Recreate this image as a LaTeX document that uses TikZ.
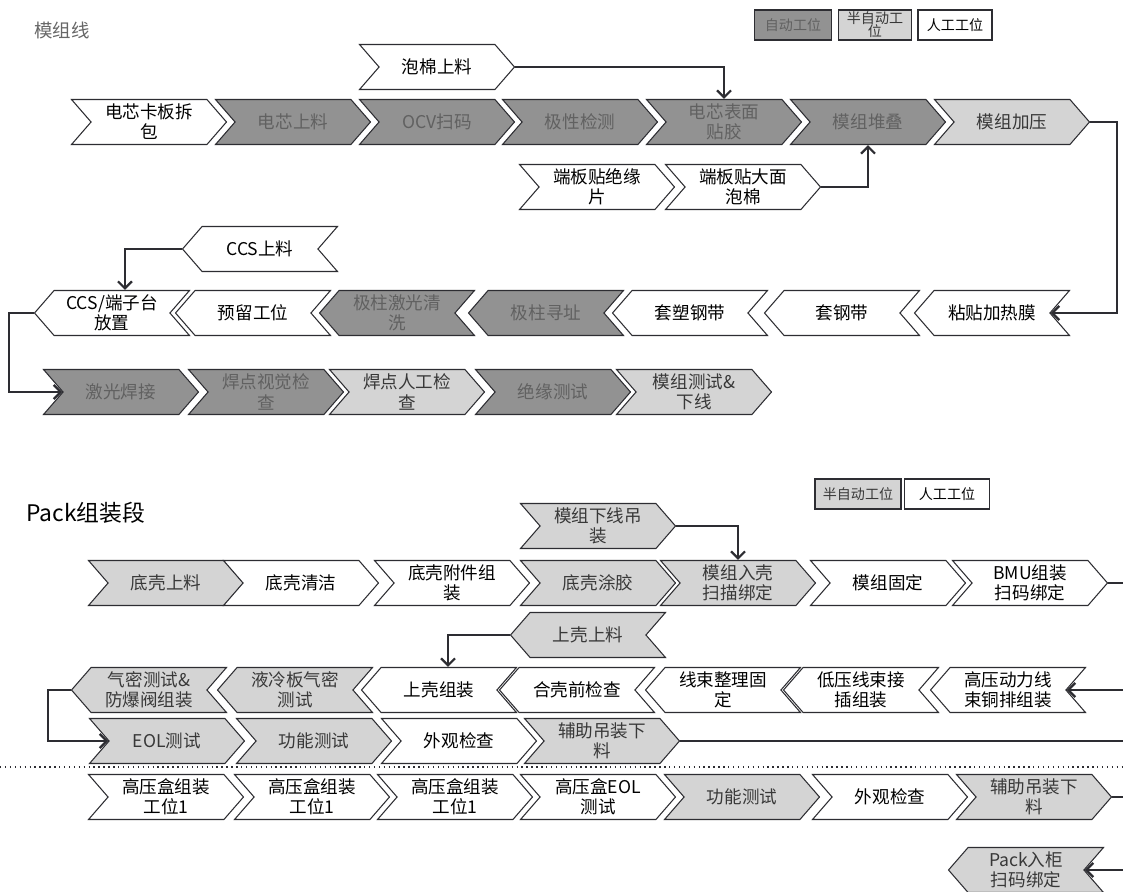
\documentclass[tikz,border=0pt]{standalone}
\usepackage{fontspec}
\setmainfont{Noto Sans CJK SC}
\definecolor{stFull}{RGB}{146,146,146}
\definecolor{stSemi}{RGB}{212,212,212}
\definecolor{stLine}{RGB}{45,45,50}
\usetikzlibrary{arrows.meta,shapes.symbols,calc}

\begin{document}
\begin{tikzpicture}[x=0.02cm, y=-0.02cm,
    st/.style={signal, signal to=east, signal from=west, signal pointer angle=98,
               draw=stLine, line width=0.6pt, minimum width=3.1cm, minimum height=0.9cm,
               inner sep=1pt, align=center, font=\fontsize{10}{11.5}\selectfont},
    stl/.style={st, signal to=west, signal from=east},
    full/.style={fill=stFull, text=black!62},
    semi/.style={fill=stSemi, text=black!78},
    man/.style={fill=white, text=black},
    key/.style={rectangle, draw=stLine, line width=0.6pt, minimum height=0.6cm,
                inner sep=1pt, align=center, font=\fontsize{8}{7.5}\selectfont},
    conn/.style={stLine, line width=1.3pt},
    arr/.style={conn, -{Straight Barb[length=4pt,width=8pt]}}
  ]
  \useasboundingbox (0,0) rectangle (1123,892);

  \node[font=\fontsize{10.5}{12}\selectfont, text=black!60] (t1) at (62,30) {模组线};
  \node[key, full, minimum width=1.54cm, text=black!62] (k1) at (793,25) {自动工位};
  \node[key, semi, minimum width=1.46cm] (k2) at (875,25) {半自动工\\位};
  \node[key, man,  minimum width=1.48cm] (k3) at (955,25) {人工工位};

  \node[st, man]  (pm) at (437,67)  {泡棉上料};
  \node[st, man]  (a1) at (149,122) {电芯卡板拆\\包};
  \node[st, full] (a2) at (293,122) {电芯上料};
  \node[st, full] (a3) at (437,122) {OCV扫码};
  \node[st, full] (a4) at (580,122) {极性检测};
  \node[st, full] (a5) at (724,122) {电芯表面\\贴胶};
  \node[st, full] (a6) at (868,122) {模组堆叠};
  \node[st, semi] (a7) at (1012,122) {模组加压};
  \node[st, man]  (d1) at (597,187) {端板贴绝缘\\片};
  \node[st, man]  (d2) at (743,187) {端板贴大面\\泡棉};

  \node[stl, man]  (cl) at (260,249) {CCS上料};
  \node[stl, man]  (b1) at (112,313) {CCS/端子台\\放置};
  \node[stl, man]  (b2) at (253,313) {预留工位};
  \node[stl, full] (b3) at (397,313) {极柱激光清\\洗};
  \node[stl, full] (b4) at (546,313) {极柱寻址};
  \node[stl, man]  (b5) at (690,313) {套塑钢带};
  \node[stl, man]  (b6) at (842,313) {套钢带};
  \node[stl, man]  (b7) at (992,313) {粘贴加热膜};

  \node[st, full] (c1) at (121,392) {激光焊接};
  \node[st, full] (c2) at (266,392) {焊点视觉检\\查};
  \node[st, semi] (c3) at (407,392) {焊点人工检\\查};
  \node[st, full] (c4) at (553,392) {绝缘测试};
  \node[st, semi] (c5) at (694,392) {模组测试\&\\下线};

  \draw[arr] (pm.east) -| (a5.north);
  \draw[arr] (d2.east) -| (a6.south);
  \draw[arr] (a7.east) -- ++(27,0) |- (b7.east);
  \draw[arr] (cl.west) -| ([xshift=0.26cm]b1.north);
  \draw[arr] (b1.west) -- ++(-25,0) |- (c1.west);

  \node[anchor=west, font=\fontsize{13}{15}\selectfont] (t2) at (20,513) {Pack组装段};
  \node[key, semi, minimum width=1.72cm] (k4) at (858,494) {半自动工位};
  \node[key, man,  minimum width=1.70cm] (k5) at (947,494) {人工工位};

  \node[st, semi] (pd) at (598,526) {模组下线吊\\装};
  \node[st, semi] (p1) at (166,583) {底壳上料};
  \node[st, man]  (p2) at (301,583) {底壳清洁};
  \node[st, man]  (p3) at (452,583) {底壳附件组\\装};
  \node[st, semi] (p4) at (598,583) {底壳涂胶};
  \node[st, semi] (p5) at (738,583) {模组入壳\\扫描绑定};
  \node[st, man]  (p6) at (888,583) {模组固定};
  \node[st, man]  (p7) at (1030,583) {BMU组装\\扫码绑定};

  \node[stl, semi] (sl) at (588,635) {上壳上料};
  \node[stl, semi] (q1) at (149,690) {气密测试\&\\防爆阀组装};
  \node[stl, semi] (q2) at (295,690) {液冷板气密\\测试};
  \node[stl, man]  (q3) at (439,690) {上壳组装};
  \node[stl, man]  (q4) at (577,690) {合壳前检查};
  \node[stl, man]  (q5) at (723,690) {线束整理固\\定};
  \node[stl, man]  (q6) at (861,690) {低压线束接\\插组装};
  \node[stl, man]  (q7) at (1008,690) {高压动力线\\束铜排组装};

  \node[st, semi] (r1) at (167,741) {EOL测试};
  \node[st, semi] (r2) at (314,741) {功能测试};
  \node[st, man]  (r3) at (459,741) {外观检查};
  \node[st, semi] (r4) at (602,741) {辅助吊装下\\料};

  \node[st, man]  (h1) at (166,797) {高压盒组装\\工位1};
  \node[st, man]  (h2) at (312,797) {高压盒组装\\工位1};
  \node[st, man]  (h3) at (455,797) {高压盒组装\\工位1};
  \node[st, man]  (h4) at (598,797) {高压盒EOL\\测试};
  \node[st, semi] (h5) at (742,797) {功能测试};
  \node[st, man]  (h6) at (890,797) {外观检查};
  \node[st, semi] (h7) at (1034,797) {辅助吊装下\\料};

  \node[stl, semi] (pk) at (1026,870) {Pack入柜\\扫码绑定};

  \coordinate (e1) at (1123,583);
  \coordinate (e2) at (1123,690);
  \coordinate (e3) at (1123,741);
  \coordinate (e4) at (1123,797);
  \coordinate (e5) at (1123,870);
  \coordinate (s1) at (0,767);
  \coordinate (s2) at (1123,767);

  \draw[arr] (pd.east) -| (p5.north);
  \draw[conn] (p7.east) -- (e1);
  \draw[arr] (e2) -- (q7.east);
  \draw[arr] (sl.west) -| ([xshift=0.18cm]q3.north);
  \draw[arr] (q1.west) -- ++(-23,0) |- (r1.west);
  \draw[conn] (r4.east) -- (e3);
  \draw[conn] (h7.east) -- (e4);
  \draw[arr] (e5) -- (pk.east);
  \draw[stLine, line width=0.8pt, dotted] (s1) -- (s2);
\end{tikzpicture}
\end{document}
